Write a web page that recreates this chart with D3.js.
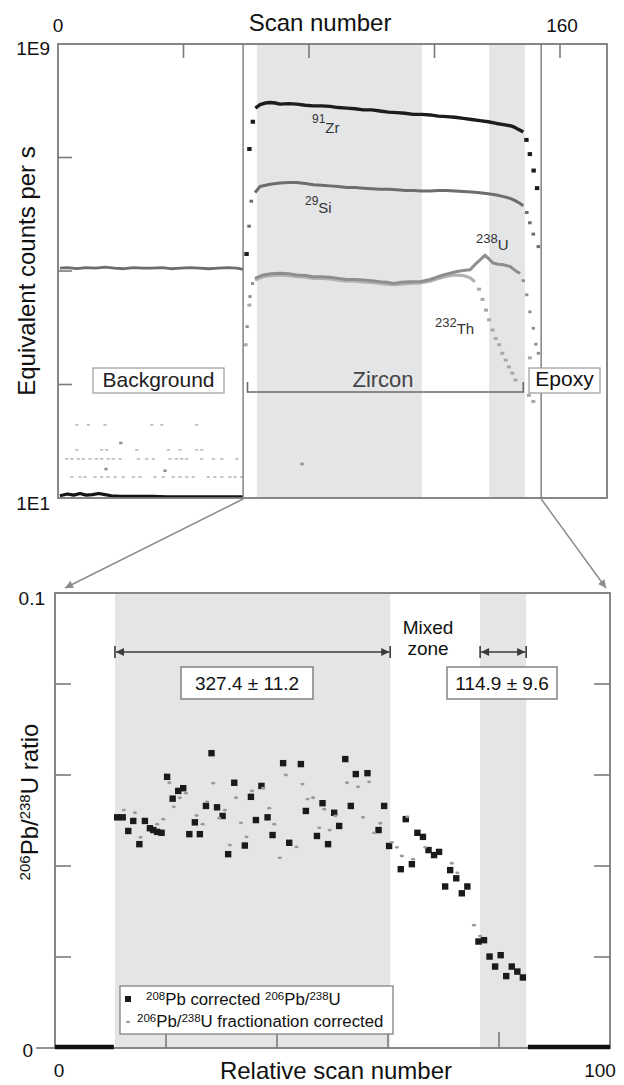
<!DOCTYPE html>
<html><head><meta charset="utf-8">
<script src="https://cdn.jsdelivr.net/npm/d3@7"></script>
<style>
html,body{margin:0;padding:0;background:#fff;}
svg{display:block;font-family:"Liberation Sans",Arial,Helvetica,sans-serif;}
</style></head><body>
<svg id="chart" width="624" height="1085"></svg>
<script>
// ---------------- DATA: top panel (log10 of equivalent counts per s) ----------------
const topXTicks = [0, 40, 80, 120, 160];
const topXTickLabels = ["0", "", "", "", "160"];
const topYTicks = [1e1, 1e3, 1e5, 1e7, 1e9];
const topYTickLabels = ["1E1", "", "", "", "1E9"];
const topBands = [[63.4, 116.0], [137.4, 148.8]];
const sepScans = [59, 154];

const zrBgScan = [0.6, 3, 5, 7, 9, 11, 13, 15, 17, 20, 25, 30, 35, 40, 45, 50, 55, 59];
const zrBgLog  = [1.04, 1.07, 1.05, 1.08, 1.05, 1.06, 1.08, 1.06, 1.04, 1.03, 1.03, 1.03, 1.02, 1.02, 1.02, 1.02, 1.02, 1.02];
const zrLineScan = [62.9, 64.4, 66.0, 67.6, 69.2, 70.8, 73.5, 76.1, 78.8, 81.4, 84.0, 86.7, 89.3, 92.0, 94.7, 97.3, 100.0, 102.6, 105.3, 108.0, 110.6, 113.2, 115.9, 118.6, 121.2, 123.9, 126.5, 129.2, 131.8, 134.5, 137.1, 139.8, 142.0, 144.1, 145.2, 146.2, 147.3, 148.3];
const zrLineLog  = [7.87, 7.93, 7.96, 7.97, 7.96, 7.94, 7.95, 7.94, 7.92, 7.91, 7.91, 7.90, 7.88, 7.87, 7.86, 7.84, 7.84, 7.82, 7.80, 7.79, 7.78, 7.76, 7.76, 7.75, 7.73, 7.72, 7.71, 7.69, 7.67, 7.65, 7.63, 7.60, 7.58, 7.56, 7.54, 7.51, 7.48, 7.45];
const zrDotScan = [60.1, 61.0, 62.1, 149.3, 150.4, 151.6, 152.7];
const zrDotLog  = [5.30, 7.15, 7.63, 7.31, 7.06, 6.77, 6.46];

const siBgScan = [0.6, 3, 6, 9, 12, 15, 18, 21, 24, 27, 30, 33, 36, 39, 42, 45, 48, 51, 54, 57, 59];
const siBgLog  = [5.05, 5.06, 5.04, 5.06, 5.05, 5.07, 5.05, 5.04, 5.06, 5.05, 5.05, 5.06, 5.04, 5.05, 5.06, 5.05, 5.04, 5.05, 5.06, 5.05, 5.03];
const siLineScan = [62.8, 64.4, 67.6, 70.8, 73.5, 76.1, 78.8, 81.4, 84.0, 86.7, 89.3, 92.0, 94.7, 97.3, 100.0, 102.6, 105.3, 108.0, 110.6, 113.2, 115.9, 118.6, 121.2, 123.9, 126.5, 129.2, 131.8, 134.5, 137.1, 139.8, 142.0, 144.1, 145.7, 147.3, 148.3];
const siLineLog  = [6.38, 6.49, 6.53, 6.55, 6.56, 6.56, 6.54, 6.52, 6.51, 6.50, 6.49, 6.47, 6.47, 6.46, 6.45, 6.44, 6.44, 6.43, 6.42, 6.42, 6.41, 6.41, 6.42, 6.42, 6.41, 6.40, 6.39, 6.38, 6.36, 6.34, 6.31, 6.28, 6.24, 6.19, 6.15];
const siDotScan = [60.9, 61.6, 149.4, 150.4, 151.5, 153.1];
const siDotLog  = [5.79, 6.23, 6.03, 5.85, 5.65, 5.43];

const uLineScan = [62.8, 65.4, 68.0, 70.8, 73.5, 76.1, 78.8, 81.4, 84.0, 86.7, 89.3, 92.0, 94.7, 97.3, 100.0, 102.6, 104.8, 106.9, 109.5, 112.2, 115.4, 118.6, 120.7, 122.8, 125.0, 127.1, 129.2, 131.3, 133.4, 134.8, 136.1, 137.4, 138.7, 140.3, 141.9, 144.1, 146.2, 147.3];
const uLineLog  = [4.87, 4.93, 4.95, 4.96, 4.95, 4.93, 4.92, 4.90, 4.90, 4.89, 4.87, 4.85, 4.85, 4.84, 4.83, 4.81, 4.80, 4.78, 4.80, 4.81, 4.81, 4.85, 4.89, 4.93, 4.96, 4.99, 5.01, 5.02, 5.14, 5.21, 5.28, 5.21, 5.14, 5.12, 5.11, 5.08, 4.99, 4.96];
const uDotScan = [60.3, 61.2, 62.0, 148.3, 149.4, 150.4, 151.5, 152.3, 153.1];
const uDotLog  = [4.02, 4.55, 4.78, 4.83, 4.58, 4.28, 3.99, 3.71, 3.55];

const thLineScan = [62.8, 65.4, 68.0, 70.8, 73.5, 76.1, 78.8, 81.4, 84.0, 86.7, 89.3, 92.0, 94.7, 97.3, 100.0, 102.6, 104.8, 106.9, 109.5, 112.2, 115.4, 118.6, 120.7, 122.8, 125.0, 127.1, 129.2, 131.3, 132.9];
const thLineLog  = [4.84, 4.90, 4.92, 4.93, 4.92, 4.90, 4.89, 4.87, 4.87, 4.86, 4.84, 4.82, 4.82, 4.81, 4.80, 4.78, 4.77, 4.76, 4.77, 4.78, 4.79, 4.82, 4.86, 4.89, 4.92, 4.93, 4.92, 4.88, 4.81];
const thDotScan = [59.8, 61.0, 134.2, 135.3, 136.4, 137.4, 138.5, 139.5, 140.6, 141.6, 142.7, 143.7, 144.8, 145.8, 150.1, 150.4, 151.5, 152.0];
const thDotLog  = [3.70, 4.40, 4.68, 4.50, 4.31, 4.14, 3.96, 3.81, 3.70, 3.55, 3.43, 3.31, 3.20, 3.08, 2.81, 3.47, 2.70, 3.26];

const bgRowLog = [2.29, 1.85, 1.69, 1.37];
const bgRowScans = [
  [6.0, 9.7, 15.0, 29.9, 33.1, 44.2],
  [6.0, 13.9, 15.5, 25.1, 35.2, 38.9, 44.2, 45.8],
  [2.8, 4.4, 6.5, 8.1, 10.2, 12.3, 13.9, 16.0, 17.6, 19.8, 25.6, 28.3, 30.4, 35.7, 37.8, 39.4, 41.0, 45.8, 49.5, 52.2, 57.0],
  [4.4, 7.0, 8.6, 11.8, 13.9, 16.0, 18.2, 20.8, 24.0, 26.1, 30.9, 33.6, 36.7, 38.9, 41.0, 43.1, 47.9, 50.0, 52.2, 54.8, 56.4, 58.5]
];
const bgDarkScan = [15.3, 20.0, 34.1, 77.8];
const bgDarkLog  = [1.51, 1.97, 1.48, 1.60];

// ---------------- DATA: bottom panel ----------------
const botXTicks = [0, 20, 40, 60, 80, 100];
const botYTicks = [0, 0.02, 0.04, 0.06, 0.08, 0.1];
const botBands = [[10.8, 60.4], [76.6, 84.9]];
const pbCorrX = [11.2,12.2,13.2,14.1,15.2,16.2,17.1,17.7,18.4,19.2,20.2,21.2,22.2,23.1,24.2,25.2,26.1,27.2,28.2,29.2,30.2,31.2,32.3,34.2,35.3,36.2,37.2,38.3,39.2,41.1,42.2,44.3,45.2,47.2,48.2,49.2,50.3,51.2,52.3,53.3,54.2,56.3,58.3,59.3,60.2,62.3,63.2,64.3,65.3,66.3,67.3,68.3,69.2,70.3,71.2,72.3,73.3,74.3,76.3,77.3,78.3,79.3,80.3,81.3,82.3,83.3,84.3];
const pbCorrY = [.0507,.0507,.0477,.0499,.0448,.0499,.0483,.0479,.0475,.0473,.0596,.0548,.0565,.0571,.0470,.0496,.0470,.0532,.0648,.0529,.0510,.0426,.0583,.0445,.0552,.0501,.0576,.0507,.0468,.0626,.0451,.0624,.0521,.0466,.0538,.0448,.0517,.0488,.0635,.0532,.0602,.0604,.0479,.0532,.0444,.0393,.0503,.0404,.0473,.0464,.0435,.0424,.0431,.0355,.0391,.0373,.0340,.0355,.0234,.0237,.0201,.0179,.0204,.0158,.0179,.0168,.0155];
const fracX = [12.4,14.4,15.4,18.4,19.5,20.6,21.4,22.5,23.6,25.5,26.6,27.4,28.5,29.6,30.6,31.5,32.6,33.5,34.5,35.5,37.5,38.6,39.5,40.5,41.6,43.5,44.6,45.5,46.5,47.6,48.5,49.5,50.5,52.6,54.6,55.5,56.6,57.5,58.6,60.7,61.6,62.5,63.5,64.5,66.7,71.5,72.5,75.5,76.6];
const fracY = [.0523,.0517,.0463,.0492,.0503,.0583,.0530,.0550,.0560,.0511,.0492,.0541,.0582,.0505,.0523,.0446,.0550,.0495,.0464,.0565,.0571,.0527,.0492,.0418,.0600,.0442,.0580,.0547,.0550,.0484,.0525,.0479,.0510,.0583,.0574,.0507,.0585,.0473,.0494,.0452,.0441,.0422,.0508,.0415,.0441,.0406,.0385,.0270,.0246];
const zeroRangesX = [[0, 10.6], [85.2, 100]];
const ages = ["327.4 \u00B1 11.2", "114.9 \u00B1 9.6"];

// ---------------- RENDER ----------------
const svg = d3.select('#chart');
const defs = svg.append('defs');
const P = v => Math.pow(10, v);
const zip = (a, b) => a.map((v, i) => [v, b[i]]);

function marker(id, color, w, h) {
  defs.append('marker').attr('id', id).attr('viewBox', '0 0 10 10').attr('refX', 10).attr('refY', 5)
    .attr('markerWidth', w).attr('markerHeight', h).attr('markerUnits', 'userSpaceOnUse')
    .attr('orient', 'auto-start-reverse')
    .append('path').attr('d', 'M0,0 L10,5 L0,10 z').attr('fill', color);
}
marker('ag', '#8c8c8c', 11, 8);
marker('ak', '#3a3a3a', 9, 8);

function rich(g, x, y, parts, size, supSize, anchor, fill, rot) {
  const t = g.append('text').attr('x', x).attr('y', y).attr('font-size', size)
    .attr('text-anchor', anchor || 'start').attr('fill', fill || '#111');
  if (rot) t.attr('transform', `rotate(${rot},${x},${y})`);
  let cur = 0;
  parts.forEach(p => {
    const off = p.sup ? -(p.shift || Math.round(size * 0.38)) : 0;
    t.append('tspan').text(p.t).attr('font-size', p.sup ? supSize : size).attr('dy', off - cur);
    cur = off;
  });
  return t;
}

// ===== TOP PANEL =====
const T = {l: 58, r: 607, t: 44, b: 498};
const xT = d3.scaleLinear().domain([0, 160]).range([58, 560]);
const yT = d3.scaleLog().domain([1e1, 1e9]).range([T.b, T.t]);
defs.append('clipPath').attr('id', 'clipT').append('rect')
  .attr('x', T.l).attr('y', T.t).attr('width', T.r - T.l).attr('height', T.b - T.t);
const gT = svg.append('g');
const gTc = gT.append('g').attr('clip-path', 'url(#clipT)');

gTc.selectAll('rect.band').data(topBands).join('rect')
  .attr('x', d => xT(d[0])).attr('y', T.t).attr('width', d => xT(d[1]) - xT(d[0]))
  .attr('height', T.b - T.t).attr('fill', '#e4e5e7');

gT.selectAll('line.sep').data(sepScans).join('line')
  .attr('x1', d => xT(d)).attr('x2', d => xT(d)).attr('y1', T.t).attr('y2', T.b)
  .attr('stroke', '#8a8a8a').attr('stroke-width', 1.6);

const lineT = d3.line().x(d => xT(d[0])).y(d => yT(P(d[1])));

// background scatter
bgRowLog.forEach((lv, i) => {
  gTc.selectAll(null).data(bgRowScans[i]).join('rect')
    .attr('x', d => xT(d) - 1.6).attr('y', yT(P(lv)) - 0.8).attr('width', 3.2).attr('height', 1.7)
    .attr('fill', '#bdbdbd');
});
gTc.selectAll(null).data(zip(bgDarkScan, bgDarkLog)).join('rect')
  .attr('x', d => xT(d[0]) - 1.6).attr('y', d => yT(P(d[1])) - 1.3).attr('width', 3.2).attr('height', 2.6)
  .attr('fill', '#8f8f8f');

// Th, U, Si, Zr
gTc.append('path').datum(zip(thLineScan, thLineLog)).attr('d', lineT)
  .attr('fill', 'none').attr('stroke', '#b3b3b3').attr('stroke-width', 3.2).attr('stroke-linejoin', 'round');
gTc.selectAll(null).data(zip(thDotScan, thDotLog)).join('rect')
  .attr('x', d => xT(d[0]) - 2).attr('y', d => yT(P(d[1])) - 1.5).attr('width', 4).attr('height', 3)
  .attr('fill', '#a8a8a8');
gTc.append('path').datum(zip(uLineScan, uLineLog)).attr('d', lineT)
  .attr('fill', 'none').attr('stroke', '#8e8e8e').attr('stroke-width', 3).attr('stroke-linejoin', 'round');
gTc.selectAll(null).data(zip(uDotScan, uDotLog)).join('rect')
  .attr('x', d => xT(d[0]) - 1.6).attr('y', d => yT(P(d[1])) - 1.4).attr('width', 3.2).attr('height', 2.8)
  .attr('fill', '#8e8e8e');

gTc.append('path').datum(zip(siBgScan, siBgLog)).attr('d', lineT)
  .attr('fill', 'none').attr('stroke', '#6d6d6d').attr('stroke-width', 2.8).attr('stroke-linejoin', 'round');
gTc.append('path').datum(zip(siLineScan, siLineLog)).attr('d', lineT)
  .attr('fill', 'none').attr('stroke', '#6d6d6d').attr('stroke-width', 3).attr('stroke-linejoin', 'round');
gTc.selectAll(null).data(zip(siDotScan, siDotLog)).join('rect')
  .attr('x', d => xT(d[0]) - 1.8).attr('y', d => yT(P(d[1])) - 1.5).attr('width', 3.6).attr('height', 3)
  .attr('fill', '#6d6d6d');

gTc.append('path').datum(zip(zrBgScan, zrBgLog)).attr('d', lineT)
  .attr('fill', 'none').attr('stroke', '#151515').attr('stroke-width', 3.2).attr('stroke-linejoin', 'round');
gTc.append('path').datum(zip(zrLineScan, zrLineLog)).attr('d', lineT)
  .attr('fill', 'none').attr('stroke', '#1c1c1c').attr('stroke-width', 3.4).attr('stroke-linejoin', 'round');
gTc.selectAll(null).data(zip(zrDotScan, zrDotLog)).join('rect')
  .attr('x', d => xT(d[0]) - 2.2).attr('y', d => yT(P(d[1])) - 2).attr('width', 4.4).attr('height', 4)
  .attr('fill', '#1c1c1c');

// isotope labels
rich(gT, 312, 133, [{t: '91', sup: true, shift: 10}, {t: 'Zr'}], 15, 12, 'start', '#333');
rich(gT, 305, 213, [{t: '29', sup: true, shift: 8}, {t: 'Si'}], 15, 12, 'start', '#333');
rich(gT, 476, 250, [{t: '238', sup: true, shift: 7}, {t: 'U'}], 15, 13, 'start', '#333');
rich(gT, 435, 334, [{t: '232', sup: true, shift: 7}, {t: 'Th'}], 15, 13, 'start', '#333');

// region labels
gT.append('rect').attr('x', 93).attr('y', 368).attr('width', 131).attr('height', 25)
  .attr('fill', '#fff').attr('stroke', '#9a9a9a').attr('stroke-width', 1.2);
gT.append('text').attr('x', 158.5).attr('y', 387).attr('text-anchor', 'middle').attr('font-size', 21)
  .attr('fill', '#222').text('Background');
gT.append('rect').attr('x', 529).attr('y', 368).attr('width', 71).attr('height', 25)
  .attr('fill', '#fff').attr('stroke', '#9a9a9a').attr('stroke-width', 1.2);
gT.append('text').attr('x', 564.5).attr('y', 386).attr('text-anchor', 'middle').attr('font-size', 21)
  .attr('fill', '#111').text('Epoxy');
gT.append('path').attr('d', `M${xT(60.4)},382 V392 H${xT(148.3)} V382`)
  .attr('fill', 'none').attr('stroke', '#6a6a6a').attr('stroke-width', 1.6);
gT.append('text').attr('x', 383).attr('y', 387).attr('text-anchor', 'middle').attr('font-size', 22)
  .attr('fill', '#444').text('Zircon');

// frame + ticks
gT.append('rect').attr('x', T.l).attr('y', T.t).attr('width', T.r - T.l).attr('height', T.b - T.t)
  .attr('fill', 'none').attr('stroke', '#7a7a7a').attr('stroke-width', 1.8);
gT.selectAll(null).data(topXTicks.slice(1)).join('line')
  .attr('x1', d => xT(d)).attr('x2', d => xT(d)).attr('y1', T.t).attr('y2', T.t + 14)
  .attr('stroke', '#7a7a7a').attr('stroke-width', 1.6);
gT.selectAll(null).data(topYTicks.slice(1, -1)).join('line')
  .attr('x1', T.l).attr('x2', T.l + 14).attr('y1', d => yT(d)).attr('y2', d => yT(d))
  .attr('stroke', '#7a7a7a').attr('stroke-width', 1.6);
topXTicks.forEach((v, i) => {
  if (topXTickLabels[i]) gT.append('text').attr('x', xT(v) + (i === 0 ? 0 : 2)).attr('y', 32)
    .attr('text-anchor', 'middle').attr('font-size', 19).attr('fill', '#111').text(topXTickLabels[i]);
});
topYTicks.forEach((v, i) => {
  if (topYTickLabels[i]) gT.append('text').attr('x', 50).attr('y', yT(v) + (i === 0 ? 12 : 11))
    .attr('text-anchor', 'end').attr('font-size', 19).attr('fill', '#111').text(topYTickLabels[i]);
});
gT.append('text').attr('x', 320).attr('y', 31).attr('text-anchor', 'middle').attr('font-size', 24)
  .attr('fill', '#111').text('Scan number');
gT.append('text').attr('x', 35).attr('y', 271).attr('text-anchor', 'middle').attr('font-size', 24)
  .attr('fill', '#111').attr('transform', 'rotate(-90,35,271)').text('Equivalent counts per s');

// ===== BOTTOM PANEL =====
const B = {l: 55, r: 610, t: 593, b: 1048};
const xB = d3.scaleLinear().domain([0, 100]).range([B.l, B.r]);
const yB = d3.scaleLinear().domain([0, 0.1]).range([B.b, B.t]);
const gB = svg.append('g');

// zoom arrows
[[sepScans[0], 0], [sepScans[1], 100]].forEach(([s, r], i) => {
  svg.append('line').attr('x1', xT(s)).attr('y1', T.b + 1)
    .attr('x2', xB(r) + (i === 0 ? 10 : -4)).attr('y2', B.t - 5)
    .attr('stroke', '#8c8c8c').attr('stroke-width', 1.5).attr('marker-end', 'url(#ag)');
});

gB.selectAll(null).data(botBands).join('rect')
  .attr('x', d => xB(d[0])).attr('y', B.t).attr('width', d => xB(d[1]) - xB(d[0]))
  .attr('height', B.b - B.t).attr('fill', '#e4e5e7');

// frame
gB.append('rect').attr('x', B.l).attr('y', B.t).attr('width', B.r - B.l).attr('height', B.b - B.t)
  .attr('fill', 'none').attr('stroke', '#7a7a7a').attr('stroke-width', 1.8);
const inner = botYTicks.slice(1, -1);
gB.selectAll(null).data(inner).join('line')
  .attr('x1', B.l).attr('x2', B.l + 16).attr('y1', d => yB(d)).attr('y2', d => yB(d))
  .attr('stroke', '#7a7a7a').attr('stroke-width', 1.6);
gB.selectAll(null).data(inner).join('line')
  .attr('x1', B.r).attr('x2', B.r - 16).attr('y1', d => yB(d)).attr('y2', d => yB(d))
  .attr('stroke', '#7a7a7a').attr('stroke-width', 1.6);
gB.selectAll(null).data(botXTicks.slice(1, -1)).join('line')
  .attr('x1', d => xB(d)).attr('x2', d => xB(d)).attr('y1', B.b).attr('y2', B.b - 16)
  .attr('stroke', '#7a7a7a').attr('stroke-width', 1.6);
gB.append('line').attr('x1', B.l - 19).attr('x2', B.l).attr('y1', yB(0)).attr('y2', yB(0))
  .attr('stroke', '#7a7a7a').attr('stroke-width', 1.6);

// zero data (background / epoxy)
zeroRangesX.forEach(r => {
  gB.append('path').datum(r.map(x => [x, 0]))
    .attr('d', d3.line().x(d => xB(d[0])).y(d => yB(d[1]) - 1))
    .attr('stroke', '#111').attr('stroke-width', 4.5).attr('fill', 'none');
});

// points
gB.selectAll(null).data(zip(pbCorrX, pbCorrY)).join('rect')
  .attr('x', d => xB(d[0]) - 3.2).attr('y', d => yB(d[1]) - 3.2).attr('width', 6.4).attr('height', 6.4)
  .attr('fill', '#1a1a1a');
gB.selectAll(null).data(zip(fracX, fracY)).join('ellipse')
  .attr('cx', d => xB(d[0])).attr('cy', d => yB(d[1])).attr('rx', 2.1).attr('ry', 1.4)
  .attr('fill', '#9a9a9a');

// annotations
const arrY = 652;
botBands.forEach((b, i) => {
  const x1 = xB(b[0]), x2 = xB(b[1]);
  gB.append('line').attr('x1', x1 + 1).attr('x2', x2 - 1).attr('y1', arrY).attr('y2', arrY)
    .attr('stroke', '#3a3a3a').attr('stroke-width', 1.4)
    .attr('marker-start', 'url(#ak)').attr('marker-end', 'url(#ak)');
  [x1, x2].forEach(x => gB.append('line').attr('x1', x).attr('x2', x).attr('y1', arrY - 6).attr('y2', arrY + 6)
    .attr('stroke', '#3a3a3a').attr('stroke-width', 1.6));
});
const boxes = [[181, 313], [447, 557]];
boxes.forEach((bx, i) => {
  gB.append('rect').attr('x', bx[0]).attr('y', 667).attr('width', bx[1] - bx[0]).attr('height', 32)
    .attr('fill', '#fff').attr('stroke', '#7a7a7a').attr('stroke-width', 1.4);
  gB.append('text').attr('x', (bx[0] + bx[1]) / 2).attr('y', 690).attr('text-anchor', 'middle')
    .attr('font-size', 19).attr('fill', '#111').text(ages[i]);
});
gB.append('text').attr('x', 428).attr('y', 634).attr('text-anchor', 'middle').attr('font-size', 19)
  .attr('fill', '#111').text('Mixed');
gB.append('text').attr('x', 428).attr('y', 655).attr('text-anchor', 'middle').attr('font-size', 19)
  .attr('fill', '#111').text('zone');

// legend
gB.append('rect').attr('x', 120).attr('y', 986).attr('width', 273).attr('height', 48)
  .attr('fill', '#fff').attr('stroke', '#8a8a8a').attr('stroke-width', 1.4);
gB.append('rect').attr('x', 125).attr('y', 996).attr('width', 6).attr('height', 6).attr('fill', '#1a1a1a');
rich(gB, 146, 1005, [{t: '208', sup: true, shift: 5}, {t: 'Pb corrected '}, {t: '206', sup: true, shift: 5},
  {t: 'Pb/'}, {t: '238', sup: true, shift: 5}, {t: 'U'}], 16.8, 11.5, 'start', '#111');
gB.append('ellipse').attr('cx', 128).attr('cy', 1022).attr('rx', 2).attr('ry', 1.3).attr('fill', '#9a9a9a');
rich(gB, 137, 1027, [{t: '206', sup: true, shift: 5}, {t: 'Pb/'}, {t: '238', sup: true, shift: 5},
  {t: 'U fractionation corrected'}], 16.8, 11.5, 'start', '#111');

// axis labels
gB.append('text').attr('x', 45).attr('y', 605).attr('text-anchor', 'end').attr('font-size', 19)
  .attr('fill', '#111').text('0.1');
gB.append('text').attr('x', 33).attr('y', 1057).attr('text-anchor', 'end').attr('font-size', 19)
  .attr('fill', '#111').text('0');
gB.append('text').attr('x', xB(0) + 4).attr('y', 1077).attr('text-anchor', 'middle').attr('font-size', 19)
  .attr('fill', '#111').text('0');
gB.append('text').attr('x', xB(100) - 10).attr('y', 1077).attr('text-anchor', 'middle').attr('font-size', 19)
  .attr('fill', '#111').text('100');
gB.append('text').attr('x', 336).attr('y', 1079).attr('text-anchor', 'middle').attr('font-size', 24)
  .attr('fill', '#111').text('Relative scan number');
rich(gB, 38, 802, [{t: '206', sup: true, shift: 8}, {t: 'Pb/'}, {t: '238', sup: true, shift: 8}, {t: 'U ratio'}],
  24, 15, 'middle', '#111', -90);
</script></body></html>
